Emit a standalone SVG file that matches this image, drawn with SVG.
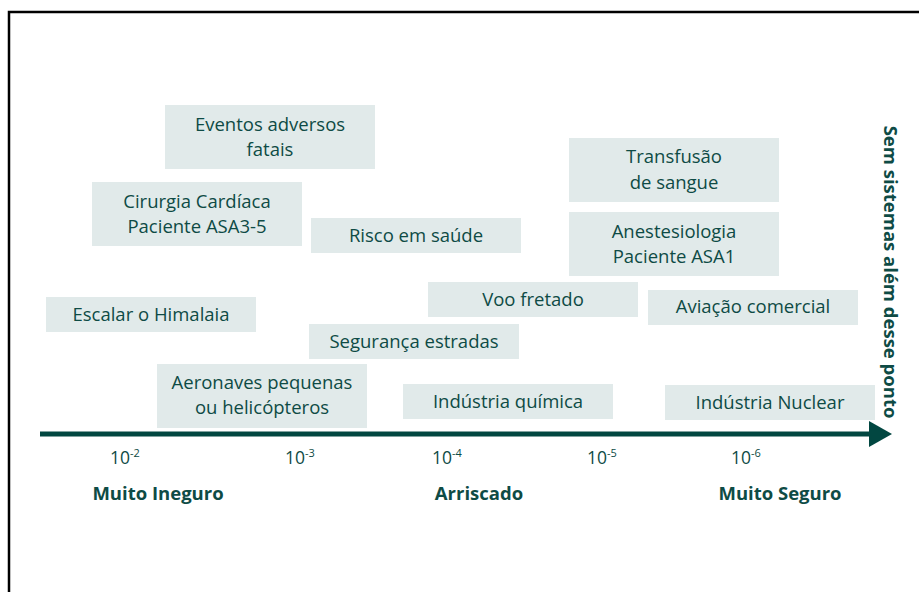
<svg xmlns="http://www.w3.org/2000/svg" width="919" height="592" viewBox="0 0 919 592">
<style>
.box{fill:#e1eaea}
.t{font-family:"Open Sans","Noto Sans",sans-serif;font-size:18.5px;fill:#0e4b45;text-anchor:middle}
.b{font-family:"Open Sans","Noto Sans",sans-serif;font-size:18.5px;font-weight:bold;fill:#0e4b45;text-anchor:middle}
.tk{font-family:"Open Sans","Noto Sans",sans-serif;font-size:17.5px;fill:#0e4b45}
.sup{font-size:11px}
</style>
<defs>
<marker id="arr" markerUnits="userSpaceOnUse" markerWidth="24" markerHeight="28" refX="0" refY="13" orient="auto">
<path d="M0,0 L23,13 L0,26 Z" fill="#024741"/>
</marker>
</defs>
<rect x="0" y="0" width="919" height="592" fill="#ffffff"/>
<path d="M9,592 V12 H919" fill="none" stroke="#000" stroke-width="2.5"/>
<g id="connectors">
<line x1="40" y1="434" x2="869" y2="434" stroke="#024741" stroke-width="5" marker-end="url(#arr)"/>
</g>
<g id="n-eventos"><rect class="box" x="165" y="105" width="210" height="64"/><text class="t" x="270" y="131">Eventos adversos</text><text class="t" x="270" y="156">fatais</text></g>
<g id="n-cirurgia"><rect class="box" x="92" y="182" width="210" height="64"/><text class="t" x="197" y="208">Cirurgia Cardíaca</text><text class="t" x="197" y="233">Paciente ASA3-5</text></g>
<g id="n-risco"><rect class="box" x="311" y="218" width="210" height="35"/><text class="t" x="416" y="242">Risco em saúde</text></g>
<g id="n-escalar"><rect class="box" x="46" y="297" width="210" height="35"/><text class="t" x="151" y="321">Escalar o Himalaia</text></g>
<g id="n-voo"><rect class="box" x="428" y="282" width="210" height="35"/><text class="t" x="533" y="306">Voo fretado</text></g>
<g id="n-transfusao"><rect class="box" x="569" y="138" width="210" height="64"/><text class="t" x="674" y="163">Transfusão</text><text class="t" x="674" y="189">de sangue</text></g>
<g id="n-anestesiologia"><rect class="box" x="569" y="212" width="210" height="64"/><text class="t" x="674" y="238">Anestesiologia</text><text class="t" x="674" y="263">Paciente ASA1</text></g>
<g id="n-aviacao"><rect class="box" x="648" y="290" width="210" height="35"/><text class="t" x="753" y="313">Aviação comercial</text></g>
<g id="n-seguranca"><rect class="box" x="309" y="324" width="210" height="35"/><text class="t" x="414" y="348">Segurança estradas</text></g>
<g id="n-aeronaves"><rect class="box" x="157" y="364" width="210" height="64"/><text class="t" x="262" y="389">Aeronaves pequenas</text><text class="t" x="262" y="414">ou helicópteros</text></g>
<g id="n-quimica"><rect class="box" x="403" y="384" width="210" height="35"/><text class="t" x="508" y="408">Indústria química</text></g>
<g id="n-nuclear"><rect class="box" x="665" y="385" width="210" height="35"/><text class="t" x="770" y="409">Indústria Nuclear</text></g>
<g id="ticks">
<text class="tk" x="110" y="464">10<tspan class="sup" dy="-7">-2</tspan></text>
<text class="tk" x="285" y="464">10<tspan class="sup" dy="-7">-3</tspan></text>
<text class="tk" x="432" y="464">10<tspan class="sup" dy="-7">-4</tspan></text>
<text class="tk" x="587" y="464">10<tspan class="sup" dy="-7">-5</tspan></text>
<text class="tk" x="731" y="464">10<tspan class="sup" dy="-7">-6</tspan></text>
</g>
<g id="labels">
<text class="b" x="158" y="500">Muito Ineguro</text>
<text class="b" x="479" y="500">Arriscado</text>
<text class="b" x="780" y="500">Muito Seguro</text>
<text class="b" transform="translate(884,272) rotate(90)" x="0" y="0">Sem sistemas além desse ponto</text>
</g>
</svg>
